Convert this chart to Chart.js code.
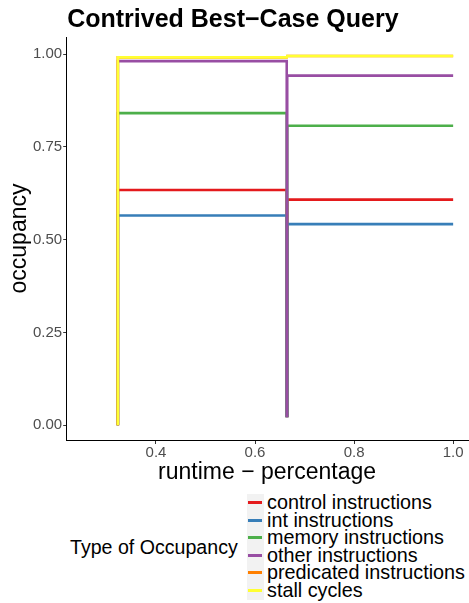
<!DOCTYPE html>
<html>
<head>
<meta charset="utf-8">
<script src="https://cdn.jsdelivr.net/npm/chart.js@4"></script>
<style>
  body { margin: 0; background: #fff; font-family: "Liberation Sans", Arial, sans-serif; }
  #wrap { position: relative; width: 469px; height: 484px; }
  #legend { position: relative; width: 469px; height: 119px; }
  #legend .ttl { position: absolute; left: 70px; top: 52px; font-size: 19.6px; line-height: 22px; color: #000; }
  #legend .items { position: absolute; left: 247px; top: 10px; }
  #legend .row { height: 17.6px; display: flex; align-items: center; }
  #legend .key { width: 17px; height: 17.6px; background: #f2f2f2; position: relative; margin-right: 3px; }
  #legend .key span { position: absolute; left: 1px; right: 2px; top: 7px; height: 3px; }
  #legend .lab { font-size: 19.8px; color: #000; line-height: 17.6px; white-space: nowrap; }
</style>
</head>
<body>
<div id="wrap"><canvas id="occ-chart"></canvas></div>
<div id="legend"></div>
<script>
// runtime positions of the step points
const runtime = [0.323, 0.323, 0.664, 0.664, 0.665, 0.665, 1.0];

// occupancy per type
const control    = [0, 0.634, 0.634, 0.025, 0.025, 0.608, 0.608];
const intInstr   = [0, 0.565, 0.565, 0.025, 0.025, 0.542, 0.542];
const memory     = [0, 0.841, 0.841, 0.025, 0.025, 0.807, 0.807];
const other      = [0, 0.981, 0.981, 0.025, 0.025, 0.942, 0.942];
const predicated = [0, 0.991, 0.991, 0.991, 0.995, 0.995, 0.995];
const stall      = [0, 0.991, 0.991, 0.991, 0.995, 0.995, 0.995];

const seriesNames = ['control instructions', 'int instructions', 'memory instructions',
                     'other instructions', 'predicated instructions', 'stall cycles'];
const seriesValues = [control, intInstr, memory, other, predicated, stall];
const seriesColors = ['#E41A1C', '#377EB8', '#4DAF4A', '#984EA3', '#FF7F00', '#FFFF33'];

const xTicks = [0.4, 0.6, 0.8, 1.0];
const yTicks = [0, 0.25, 0.5, 0.75, 1.0];

Chart.defaults.font.family = '"Liberation Sans", Arial, sans-serif';

function toPoints(values){
    return values.map((v, i) => ({x: runtime[i], y: v}));
}

const titlePlugin = {
    id: 'leftTitle',
    afterDraw(chart){
        const c = chart.ctx;
        c.save();
        c.font = 'bold 25px "Liberation Sans", Arial, sans-serif';
        c.fillStyle = '#000';
        c.textBaseline = 'alphabetic';
        c.fillText('Contrived Best\u2212Case Query', chart.chartArea.left + 1, 27);
        c.restore();
    }
};

function initChart(){
    let ctx = document.getElementById('occ-chart').getContext('2d');

    let chart = new Chart(ctx, {
        type: 'scatter',
        data: {
            datasets: seriesNames.map((name, i) => ({
                label: name,
                data: toPoints(seriesValues[i]),
                showLine: true,
                order: seriesNames.length - i,   // later series drawn on top
                borderColor: seriesColors[i],
                backgroundColor: seriesColors[i],
                borderWidth: 2.6,
                pointRadius: 0,
                tension: 0
            }))
        },
        options: {
            responsive: true,
            maintainAspectRatio: false,
            animation: false,
            layout: { padding: { top: 37, right: 1, left: 8, bottom: 0 } },
            plugins: { legend: { display: false }, tooltip: { enabled: false } },
            scales: {
                x: {
                    type: 'linear',
                    min: 0.2187, max: 1.030,
                    afterBuildTicks: (s) => { s.ticks = xTicks.map(v => ({value: v})); },
                    ticks: { color: '#4d4d4d', font: { size: 15, lineHeight: 1 }, padding: 1,
                             maxRotation: 0, callback: (v) => v.toFixed(1) },
                    grid: { drawOnChartArea: false, color: '#333', tickLength: 4 },
                    border: { display: true, color: '#000', width: 1 },
                    title: { display: true, text: 'runtime \u2212 percentage', color: '#000',
                             font: { size: 23, lineHeight: 1 }, padding: { top: 0, bottom: 0 } }
                },
                y: {
                    min: -0.0395, max: 1.046,
                    afterBuildTicks: (s) => { s.ticks = yTicks.map(v => ({value: v})); },
                    ticks: { color: '#4d4d4d', font: { size: 15, lineHeight: 1 }, padding: 1,
                             callback: (v) => v.toFixed(2) },
                    grid: { drawOnChartArea: false, color: '#333', tickLength: 3 },
                    border: { display: true, color: '#000', width: 1 },
                    title: { display: true, text: 'occupancy', color: '#000',
                             font: { size: 23, lineHeight: 1 }, padding: { top: 0, bottom: 1 } }
                }
            }
        },
        plugins: [titlePlugin]
    });

    // legend below the plot, like the ggplot guide
    let legend = document.getElementById('legend');
    let html = '<div class="ttl">Type of Occupancy</div><div class="items">';
    seriesNames.forEach((name, i) => {
        html += '<div class="row"><div class="key"><span style="background:' + seriesColors[i] +
                '"></span></div><div class="lab">' + name + '</div></div>';
    });
    html += '</div>';
    legend.innerHTML = html;
    console.log(JSON.stringify(chart.chartArea));
}

initChart();
</script>
</body>
</html>
